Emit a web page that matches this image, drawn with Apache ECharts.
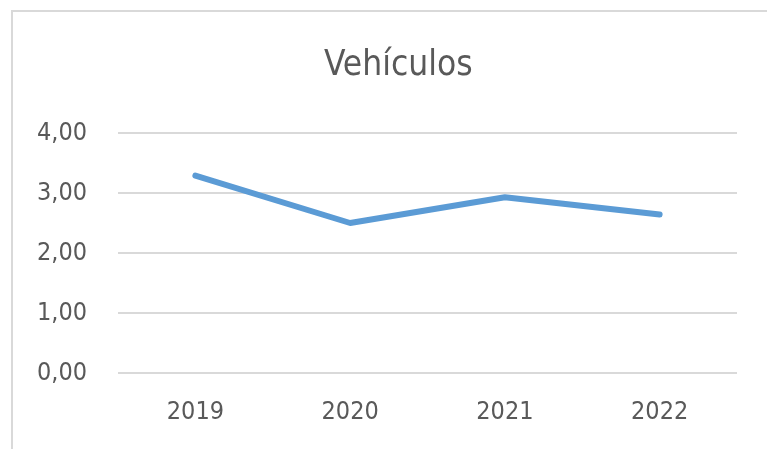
<!DOCTYPE html>
<html lang="es">
<head>
  <meta charset="UTF-8">
  <title>Vehículos</title>
  <script src="https://cdn.jsdelivr.net/npm/echarts@6/dist/echarts.min.js"></script>
  <style>
    html, body { margin: 0; padding: 0; background: #fff; }
    #main { position: absolute; left: 0; top: 0; width: 767px; height: 449px; }
    #frame {
      position: absolute; left: 11px; top: 10px; width: 760px; height: 450px;
      border-top: 2px solid #d9d9d9; border-left: 2px solid #d9d9d9;
      pointer-events: none;
    }
  </style>
</head>
<body>

<div id="main"></div>
<div id="frame"></div>

<script>
  var years = ['2019', '2020', '2021', '2022'];
  var valores = [3.29, 2.50, 2.93, 2.64];
  var font = "'Liberation Sans Narrow', 'Arial Narrow', 'DejaVu Sans Condensed', sans-serif";

  var chart = echarts.init(document.querySelector('#main'));
  chart.setOption({
    animation: false,
    title: {
      text: 'Vehículos',
      left: 319,
      top: 43,
      textStyle: { fontFamily: font, fontSize: 35, fontWeight: 'normal', color: '#595959' }
    },
    grid: { left: 118, right: 30, top: 133, bottom: 76 },
    xAxis: {
      type: 'category',
      data: years,
      axisLine: { show: false },
      axisTick: { show: false },
      axisLabel: { fontFamily: font, fontSize: 25, color: '#595959', margin: 27 }
    },
    yAxis: {
      type: 'value',
      min: 0,
      max: 4,
      interval: 1,
      axisLabel: {
        fontFamily: font, fontSize: 25, color: '#595959', margin: 31,
        formatter: function (v) { return v.toFixed(2).replace('.', ','); }
      },
      splitLine: { lineStyle: { color: '#d9d9d9', width: 2 } }
    },
    series: [{
      type: 'line',
      data: valores,
      symbol: 'none',
      lineStyle: { color: '#5b9bd5', width: 6, cap: 'round', join: 'round' }
    }]
  });
</script>
</body>
</html>
